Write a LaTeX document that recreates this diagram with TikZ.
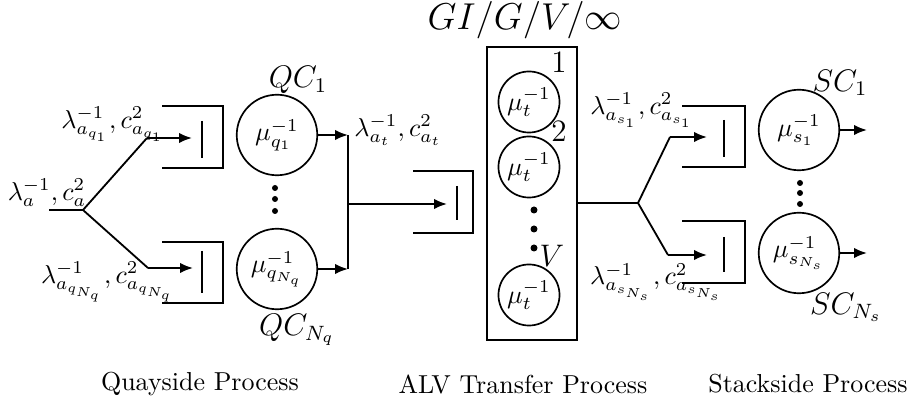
\documentclass[tikz,border=0pt]{standalone}
\usetikzlibrary{arrows.meta}
\tikzset{
  server/.style={draw,circle,line width=0.65pt,inner sep=0pt,minimum size=31pt},
  vserver/.style={draw,circle,line width=0.65pt,inner sep=0pt,minimum size=23.5pt},
  flow/.style={line width=0.7pt,-{Latex[length=5pt,width=4pt]}},
  line/.style={line width=0.7pt}
}
\begin{document}
\begin{tikzpicture}[x=0.385pt,y=-0.385pt]
\useasboundingbox (0,0) rectangle (910,403);
% quayside
\coordinate (ain) at (49,210);
\coordinate (asplit) at (83,210);
\coordinate (qb1) at (147,138);
\coordinate (qt1) at (192,138);
\coordinate (qbN) at (148,268);
\coordinate (qtN) at (193,268);
\draw[line] (ain) -- (asplit) -- (qb1);
\draw[line] (asplit) -- (qbN);
\draw[flow] (qb1) -- (qt1);
\draw[flow] (qbN) -- (qtN);
\draw[line] (162,106) -| (223,168) -- (162,168);
\draw[line] (202,121) -- (202,158);
\draw[line] (162,242) -| (223,303) -- (162,303);
\draw[line] (202,251) -- (202,293);
\node[server] (q1) at (277,135) {$\mu_{q_1}^{-1}$};
\node[server] (qN) at (277,269) {$\mu_{q_{N_q}}^{-1}$};
\fill (275,188) circle (3);
\fill (275,199) circle (3);
\fill (275,211) circle (3);
\node at (47,193) {$\lambda_a^{-1},c_a^2$};
\node at (113,124) {$\lambda_{a_{q_1}}^{-1},c_{a_{q_1}}^2$};
\node at (108,282) {$\lambda_{a_{q_{N_q}}}^{-1},c_{a_{q_{N_q}}}^2$};
\node at (298,80) {\large $QC_1$};
\node at (297,330) {\large $QC_{N_q}$};
% merge to transfer
\coordinate (j1) at (348,135);
\coordinate (jN) at (348,269);
\coordinate (jt) at (348,204);
\coordinate (tt) at (447,204);
\draw[flow] (q1.east) -- (j1);
\draw[flow] (qN.east) -- (jN);
\draw[line] (j1) -- (jN);
\draw[flow] (jt) -- (tt);
\draw[line] (413,171) -| (473,233) -- (413,233);
\draw[line] (457,186) -- (457,220);
\node at (398,130) {$\lambda_{a_t}^{-1},c_{a_t}^2$};
% ALV transfer
\draw[line] (487,47) rectangle (577,340);
\node[vserver] (t1) at (529,102) {$\mu_t^{-1}$};
\node[vserver] (t2) at (529,167) {$\mu_t^{-1}$};
\node[vserver] (tV) at (529,295) {$\mu_t^{-1}$};
\fill (534,210) circle (3.5);
\fill (534,229) circle (3.5);
\fill (534,248) circle (3.5);
\node at (559,62) {\large $1$};
\node at (559,131) {\large $2$};
\node at (552,256) {\large $V$};
\node at (525,20) {\Large $GI/G/V/\infty$};
% stackside
\coordinate (tout) at (577,203);
\coordinate (ssplit) at (638,203);
\coordinate (sb1) at (670,137);
\coordinate (st1) at (707,137);
\coordinate (sbN) at (668,255);
\coordinate (stN) at (707,255);
\draw[line] (tout) -- (ssplit) -- (sb1);
\draw[line] (ssplit) -- (sbN);
\draw[flow] (sb1) -- (st1);
\draw[flow] (sbN) -- (stN);
\draw[line] (682,106) -| (745,167) -- (682,167);
\draw[line] (724,120) -- (724,157);
\draw[line] (682,221) -| (745,283) -- (682,283);
\draw[line] (724,237) -- (724,272);
\node[server] (s1) at (799,130) {$\mu_{s_1}^{-1}$};
\node[server] (sN) at (799,253) {$\mu_{s_{N_s}}^{-1}$};
\coordinate (so1) at (867,130);
\coordinate (soN) at (867,253);
\draw[flow] (s1.east) -- (so1);
\draw[flow] (sN.east) -- (soN);
\fill (800,183) circle (3);
\fill (800,193) circle (3);
\fill (800,204) circle (3);
\node at (642,110) {$\lambda_{a_{s_1}}^{-1},c_{a_{s_1}}^2$};
\node at (657,282) {$\lambda_{a_{s_{N_s}}}^{-1},c_{a_{s_{N_s}}}^2$};
\node at (840,83) {\large $SC_1$};
\node at (846,307) {\large $SC_{N_s}$};
% captions
\node at (200,384) {Quayside Process};
\node at (523,384) {ALV Transfer Process};
\node at (808,384) {Stackside Process};
\end{tikzpicture}
\end{document}
